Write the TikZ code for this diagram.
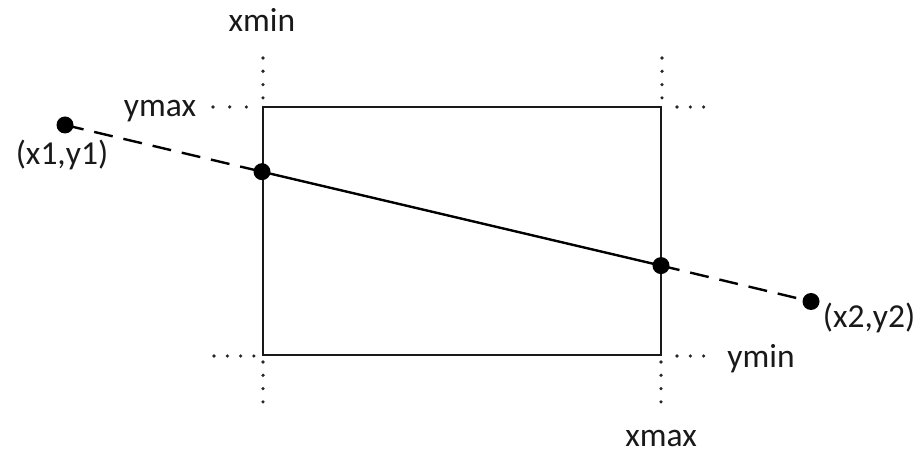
\documentclass[tikz,border=0pt]{standalone}
\usepackage{fontspec}
\setmainfont{Carlito}
\begin{document}
\begin{tikzpicture}[x=1pt,y=1pt,
  lbl/.style={font=\fontsize{33.5}{36}\selectfont, inner sep=0pt, anchor=base, text=black!90},
  pt/.style={circle, fill=black, inner sep=0pt, minimum size=17pt},
  guide/.style={line width=3.6pt, line cap=round, dash pattern=on 0pt off 13.3pt, black!85},
  box/.style={line width=2.8pt, black!90},
  seg/.style={line width=2.4pt, black},
  dashseg/.style={line width=2.4pt, black, dash pattern=on 19pt off 11pt}
]
\useasboundingbox (0,0) rectangle (920,455);
% box corners
\coordinate (TL) at (263,348);
\coordinate (TR) at (661,348);
\coordinate (BR) at (661,100);
\coordinate (BL) at (263,100);
\draw[box] (TL) -- (TR) -- (BR) -- (BL) -- cycle;
% guides
\draw[guide] (263,397) -- (263,357);
\draw[guide] (662,397) -- (662,357);
\draw[guide] (263,93) -- (263,53);
\draw[guide] (661,93) -- (661,53);
\draw[guide, dash pattern=on 0pt off 16.7pt] (213,348) -- (247,348);
\draw[guide] (677,348) -- (704,348);
\draw[guide] (214,99) -- (255,99);
\draw[guide] (677,99) -- (704,99);
% points
\node[pt] (P1) at (65,330) {};
\node[pt] (A) at (262,283.3) {};
\node[pt] (B) at (661,189.4) {};
\node[pt] (P2) at (811,153.5) {};
\draw[dashseg] (P1.center) -- (A.center);
\draw[seg] (A.center) -- (B.center);
\draw[dashseg] (B.center) -- (P2.center);
% labels
\node[lbl] (xmin) at (262,423) {xmin};
\node[lbl] (ymax) at (160,338) {ymax};
\node[lbl] (p1l) at (62,290) {(x1,y1)};
\node[lbl] (p2l) at (869,127) {(x2,y2)};
\node[lbl] (ymin) at (761,88) {ymin};
\node[lbl] (xmax) at (661,9) {xmax};
\end{tikzpicture}
\end{document}
